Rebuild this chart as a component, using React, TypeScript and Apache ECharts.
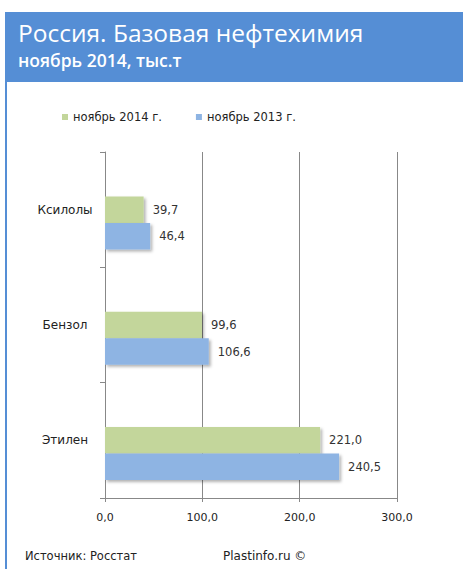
import React, { useEffect, useRef } from "react";
import * as echarts from "echarts";

const categories = ["Ксилолы", "Бензол", "Этилен"];
const series2014 = [39.7, 99.6, 221.0];
const series2013 = [46.4, 106.6, 240.5];
const legendNames = ["ноябрь 2014 г.", "ноябрь 2013 г."];
const xTicks = { min: 0, max: 300, interval: 100 };
const titleText = "Россия. Базовая нефтехимия";
const subtitleText = "ноябрь 2014, тыс.т";
const sourceText = "Источник: Росстат";
const creditText = "Plastinfo.ru ©";

const fmt = (v: number) => v.toFixed(1).replace(".", ",");
const FONT = "DejaVu Sans";

export default function App() {
  const ref = useRef<HTMLDivElement>(null);
  useEffect(() => {
    if (!ref.current) return;
    const chart = echarts.init(ref.current, undefined, { renderer: "svg" });
    const barLabel = {
      show: true,
      position: "right",
      distance: 9,
      color: "#333",
      fontSize: 11.5,
      fontFamily: FONT,
      formatter: (p: any) => fmt(p.value),
    };
    const shadow = {
      shadowColor: "rgba(0,0,0,0.3)",
      shadowBlur: 3,
      shadowOffsetX: 2,
      shadowOffsetY: 2,
    };
    chart.setOption({
      animation: false,
      backgroundColor: "#ffffff",
      graphic: [
        { type: "rect", shape: { x: 5, y: 12, width: 458, height: 70 }, style: { fill: "#558ED5" } },
        { type: "line", shape: { x1: 6, y1: 82, x2: 6, y2: 569 }, style: { stroke: "#558ED5", lineWidth: 2 } },
        {
          type: "text", x: 18, y: 32,
          style: { text: titleText, fill: "#ffffff", font: "24.5px 'Open Sans'", verticalAlign: "middle" },
        },
        {
          type: "text", x: 18, y: 60,
          style: { text: subtitleText, fill: "#ffffff", font: "600 17.5px 'Open Sans'", verticalAlign: "middle" },
        },
        {
          type: "text", x: 25, y: 556,
          style: { text: sourceText, fill: "#222", font: `11.5px '${FONT}'`, verticalAlign: "middle" },
        },
        {
          type: "text", x: 223, y: 556,
          style: { text: creditText, fill: "#222", font: `12px '${FONT}'`, verticalAlign: "middle" },
        },
      ],
      legend: {
        data: legendNames,
        left: 57,
        top: 106,
        icon: "rect",
        itemWidth: 6,
        itemHeight: 6,
        itemGap: 34,
        textStyle: { fontSize: 11.5, fontFamily: FONT, color: "#222" },
      },
      grid: { left: 105, right: 66, top: 152, bottom: 71, containLabel: false },
      xAxis: {
        type: "value",
        min: xTicks.min,
        max: xTicks.max,
        interval: xTicks.interval,
        axisLine: { show: true, lineStyle: { color: "#888" } },
        axisTick: { show: true, length: 4, lineStyle: { color: "#888" } },
        splitLine: { show: true, lineStyle: { color: "#888", width: 1 } },
        axisLabel: {
          margin: 14,
          fontSize: 11,
          fontFamily: FONT,
          color: "#222",
          formatter: (v: number) => fmt(v),
        },
      },
      yAxis: {
        type: "category",
        inverse: true,
        data: categories,
        axisLine: { show: true, lineStyle: { color: "#888" } },
        axisTick: { show: true, length: 5, lineStyle: { color: "#888" } },
        axisLabel: {
          align: "center",
          margin: 40,
          fontSize: 12,
          fontFamily: FONT,
          color: "#222",
        },
      },
      series: [
        {
          type: "bar",
          name: "",
          data: ["-", "-", "-"],
          barWidth: 26.5,
          barGap: "0%",
          silent: true,
        },
        {
          type: "bar",
          name: legendNames[0],
          data: series2014,
          barWidth: 26.5,
          barGap: "0%",
          itemStyle: { color: "#C3D69B", ...shadow },
          label: barLabel,
        },
        {
          type: "bar",
          name: legendNames[1],
          data: series2013,
          barWidth: 26.5,
          barGap: "0%",
          itemStyle: { color: "#8EB4E3", ...shadow },
          label: barLabel,
        },
      ],
    });
    return () => chart.dispose();
  }, []);
  return (
    <div
      ref={ref}
      style={{ position: "fixed", left: 0, top: 0, width: 463, height: 569 }}
    />
  );
}
